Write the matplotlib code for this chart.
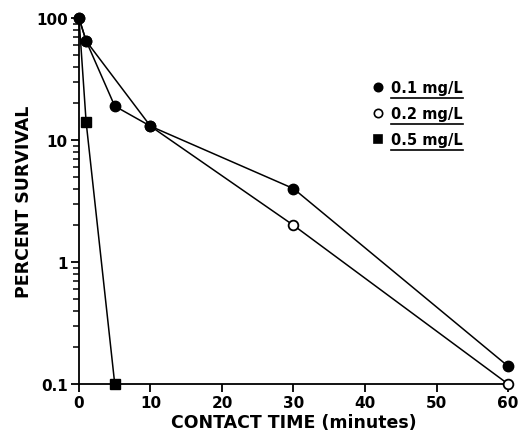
import numpy as np
import matplotlib
matplotlib.use("Agg")
from matplotlib import pyplot as plt
from matplotlib.ticker import LogLocator, NullFormatter, FixedLocator, FixedFormatter

# data
t_01 = [0, 1, 5, 10, 30, 60]
s_01 = [100, 65, 19, 13, 4, 0.14]
t_02 = [0, 1, 10, 30, 60]
s_02 = [100, 65, 13, 2, 0.1]
t_05 = [0, 1, 5]
s_05 = [100, 14, 0.1]

labels = ['0.1 mg/L', '0.2 mg/L', '0.5 mg/L']
x_ticks = [0, 10, 20, 30, 40, 50, 60]
y_ticks = [0.1, 1, 10, 100]
y_ticklabels = ['0.1', '1', '10', '100']

plt.rcParams['font.family'] = ['DejaVu Sans']
plt.rcParams['font.weight'] = 'bold'
plt.rcParams['axes.labelweight'] = 'bold'

fig = plt.figure(figsize=(5.18, 4.35), dpi=100)
ax = fig.add_axes([0.1525, 0.115, 0.8282, 0.841])

lw = 1.1
ax.plot(t_02, s_02, '-', color='black', lw=lw, marker='o', ms=7,
        mfc='white', mec='black', mew=1.3, clip_on=False, zorder=3)
ax.plot(t_01, s_01, '-', color='black', lw=lw, marker='o', ms=7.5,
        mfc='black', mec='black', clip_on=False, zorder=4)
# the 0.5 mg/L curve shares the 100 % start point, no marker there
ax.plot(t_05, s_05, '-', color='black', lw=lw, marker='s', ms=7,
        mfc='black', mec='black', markevery=[1, 2], clip_on=False, zorder=4)

ax.set_yscale('log')
ax.set_xlim(0, 60)
ax.set_ylim(0.1, 100)

for side in ['top', 'right']:
    ax.spines[side].set_visible(False)
for side in ['left', 'bottom']:
    ax.spines[side].set_linewidth(1.3)

ax.xaxis.set_major_locator(FixedLocator(x_ticks))
ax.yaxis.set_major_locator(FixedLocator(y_ticks))
ax.yaxis.set_major_formatter(FixedFormatter(y_ticklabels))
ax.yaxis.set_minor_locator(LogLocator(base=10, subs=np.arange(2, 10)))
ax.yaxis.set_minor_formatter(NullFormatter())
ax.tick_params(axis='both', which='major', direction='out', length=6,
               width=1.3, labelsize=11, pad=2)
ax.tick_params(axis='y', which='minor', direction='out', length=4, width=1.1)

ax.set_xlabel('CONTACT TIME (minutes)', fontsize=12.5, labelpad=2)
ax.set_ylabel('PERCENT SURVIVAL', fontsize=12.5, labelpad=2)

# legend drawn by hand, text underlined
leg_y = [0.811, 0.740, 0.669]
styles = [dict(marker='o', mfc='black'), dict(marker='o', mfc='white'),
          dict(marker='s', mfc='black')]
fig.canvas.draw()
renderer = fig.canvas.get_renderer()
for lab, yy, st in zip(labels, leg_y, styles):
    ax.plot([0.697], [yy], transform=ax.transAxes, ls='none', ms=6,
            mec='black', mew=1.2, clip_on=False, **st)
    txt = ax.text(0.727, yy, lab, transform=ax.transAxes, fontsize=10.5,
                  va='center', ha='left')
    bb = txt.get_window_extent(renderer).transformed(ax.transAxes.inverted())
    ax.plot([bb.x0, bb.x1], [bb.y0 - 0.008] * 2, transform=ax.transAxes,
            color='black', lw=1.2, clip_on=False)

fig.savefig('out.png', dpi=100)
